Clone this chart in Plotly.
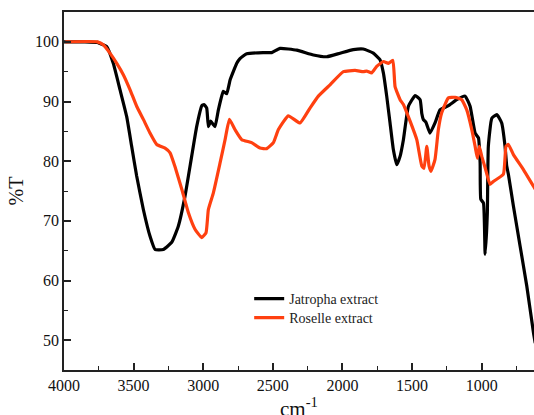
import plotly.graph_objects as go

# Jatropha extract (black)
jatropha_wn = [4000, 3850, 3760, 3740, 3693, 3646, 3598, 3550, 3514, 3478, 3430, 3382, 3346, 3287,
               3226, 3179, 3131, 3083, 3047, 3010, 2995, 2975, 2963, 2946, 2930, 2915, 2891, 2856,
               2831, 2807, 2759, 2736, 2687, 2570, 2508, 2448, 2328, 2209, 2113, 2017, 1922, 1850,
               1778, 1730, 1706, 1682, 1658, 1634, 1610, 1586, 1562, 1526, 1478, 1442, 1430, 1419,
               1400, 1371, 1335, 1299, 1239, 1179, 1119, 1083, 1047, 1023, 1011, 1006, 987, 975,
               965, 959, 952, 927, 891, 856, 832, 820, 808, 772, 724, 676, 628, 615]
jatropha_t = [100, 100, 99.9, 99.7, 99.2, 96.4, 92, 87.5, 82.5, 77.5, 71.9, 67.4, 65.2, 65.2,
              66.4, 69.1, 74.1, 80.8, 85.8, 89.3, 89.5, 88.9, 85.8, 86.7, 86.2, 85.8, 88.6, 91.7,
              91.3, 93.6, 96.4, 97.2, 98, 98.2, 98.2, 98.9, 98.6, 97.8, 97.5, 98.1, 98.7, 98.8,
              98.1, 97, 94.8, 90.9, 86.4, 81.9, 79.4, 80.8, 83.6, 89.2, 91, 90.3, 88, 87,
              86.5, 84.7, 86.4, 88.6, 89.3, 90.3, 90.9, 89.2, 84.7, 83.9, 79.7, 73.6, 73, 64.4,
              68, 71.4, 82.5, 87.2, 87.8, 86.4, 82.5, 79.2, 77.8, 72.5, 65.8, 59.1, 51.3, 49.5]

# Roselle extract (red)
roselle_wn = [3990, 3760, 3718, 3670, 3621, 3574, 3526, 3478, 3430, 3382, 3334, 3274, 3238, 3203,
              3154, 3107, 3059, 3011, 2980, 2963, 2927, 2879, 2843, 2812, 2772, 2723, 2652, 2592,
              2544, 2496, 2460, 2389, 2305, 2233, 2173, 2089, 1993, 1909, 1850, 1826, 1790, 1754,
              1706, 1670, 1638, 1622, 1586, 1562, 1514, 1466, 1430, 1414, 1394, 1378, 1364, 1335,
              1311, 1287, 1239, 1191, 1143, 1107, 1071, 1047, 1031, 1017, 999, 975, 940, 916,
              844, 825, 808, 772, 700, 628, 615]
roselle_t = [100, 100, 99.5, 98.1, 96.4, 94.5, 92, 89.2, 87, 84.7, 82.8, 82.2, 81.4, 79.1,
             75.3, 71.4, 68.6, 67.2, 68, 71.9, 74.7, 79.7, 83.6, 87, 85.3, 83.6, 83.1, 82.2,
             82.1, 83.1, 85.3, 87.6, 86.4, 88.9, 90.9, 92.8, 95, 95.2, 95, 95.1, 94.8, 95.9,
             96.7, 96.4, 96.9, 92.5, 90.3, 89.5, 86.7, 83.6, 79.2, 78.8, 82.5, 79.2, 78.3, 80.3,
             85.3, 88.1, 90.6, 90.7, 90.3, 88.6, 85.3, 82.5, 80.5, 82.5, 80.8, 78.9, 76.1, 76.6,
             77.8, 82.5, 82.8, 81.1, 78.6, 75.8, 75.3]

x_ticks = [4000, 3500, 3000, 2500, 2000, 1500, 1000]
y_ticks = [50, 60, 70, 80, 90, 100]

FONT = "Liberation Serif"

fig = go.Figure()
fig.add_trace(go.Scatter(x=jatropha_wn, y=jatropha_t, mode="lines", name="Jatropha extract",
                         legend="legend",
                         line=dict(color="#000000", width=3.2, shape="spline", smoothing=0.4)))
fig.add_trace(go.Scatter(x=roselle_wn, y=roselle_t, mode="lines", name="Roselle extract",
                         legend="legend2",
                         line=dict(color="#FF4010", width=3.2, shape="spline", smoothing=0.4)))

leg_common = dict(x=0.394, xanchor="left", yanchor="top", bgcolor="rgba(0,0,0,0)",
                  font=dict(family=FONT, size=14, color="#222"), itemwidth=30)

fig.update_layout(
    width=534, height=415,
    margin=dict(l=64, r=0, t=12, b=45),
    plot_bgcolor="white", paper_bgcolor="white",
    font=dict(family=FONT, color="#111111", size=16),
    showlegend=True,
    legend=dict(y=0.243, **leg_common),
    legend2=dict(y=0.190, **leg_common),
    xaxis=dict(range=[4000, 624], tickvals=x_ticks, ticktext=[str(v) for v in x_ticks],
               ticks="inside", ticklen=7, tickwidth=1.5, tickcolor="#222",
               showline=True, linecolor="#222", linewidth=1.5, mirror=True,
               showgrid=False, zeroline=False,
               minor=dict(ticks="inside", dtick=250, tick0=0, ticklen=4, tickwidth=1.3, tickcolor="#222"),
               tickfont=dict(family=FONT, size=16), automargin=False),
    yaxis=dict(range=[45, 105], tickvals=y_ticks, ticktext=[str(v) for v in y_ticks],
               ticks="inside", ticklen=7, tickwidth=1.5, tickcolor="#222",
               showline=True, linecolor="#222", linewidth=1.5, mirror=False,
               showgrid=False, zeroline=False,
               minor=dict(ticks="inside", dtick=5, tick0=0, ticklen=4, tickwidth=1.3, tickcolor="#222"),
               title=dict(text="%T", font=dict(family=FONT, size=20), standoff=6),
               tickfont=dict(family=FONT, size=16), automargin=False),
    annotations=[dict(text="cm<sup>-1</sup>", xref="paper", yref="paper", x=0.5, y=-0.106,
                      xanchor="center", yanchor="middle", showarrow=False,
                      font=dict(family=FONT, size=21, color="#111111"))],
)

fig.write_html("out.html", config={"displayModeBar": False},
               post_script="document.body.style.margin='0';document.body.style.overflow='hidden';")
